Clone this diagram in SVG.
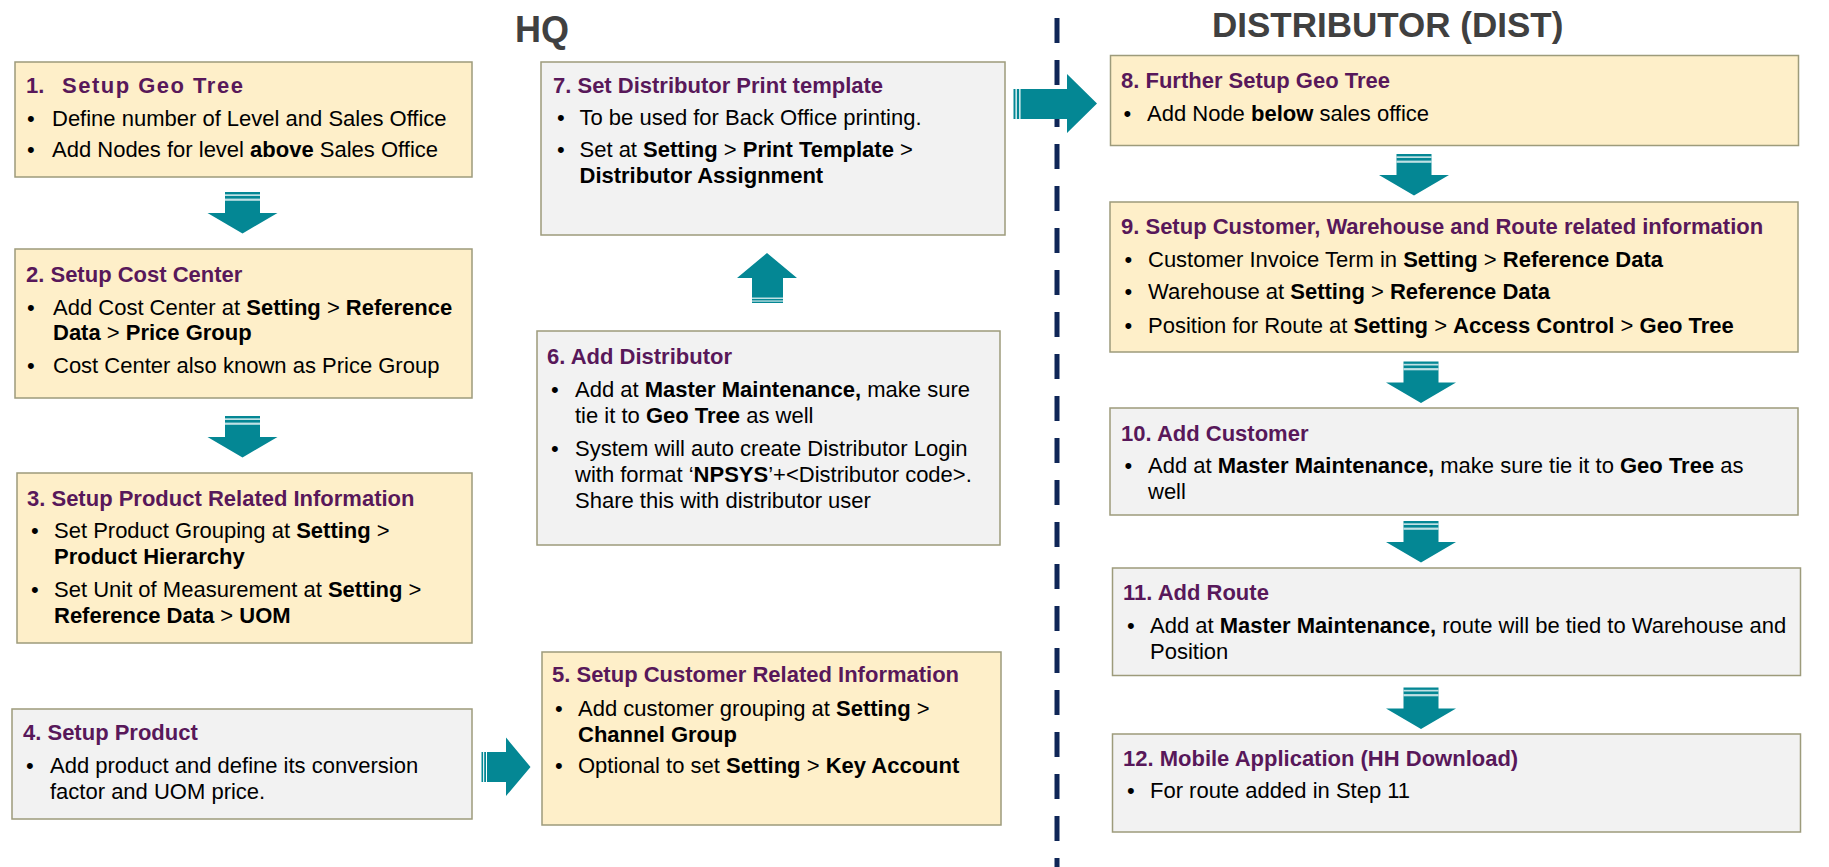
<svg xmlns="http://www.w3.org/2000/svg" width="1829" height="867" viewBox="0 0 1829 867">
<style>
  .box{stroke:#9d9b7b;stroke-width:1.5}
  .y{fill:#feefc9}
  .g{fill:#f2f2f2}
  text{font-family:"Liberation Sans",Arial,sans-serif;font-size:22px;fill:#000}
  .t{font-weight:bold;fill:#58185a}
  .b{font-weight:bold}
  .hd{font-weight:bold;fill:#404040}
  .arr{fill:#048794}
  .st{fill:#ffffff;opacity:.75}
</style>
<defs>
  <!-- striped block arrow pointing down; origin at top centre of the stem -->
  <g id="down">
    <path class="arr" d="M-17.5 0H17.5V21H35L0 41.5L-35 21H-17.5Z"/>
    <rect class="st" x="-17.5" y="2.3" width="35" height="1.7"/>
    <rect class="st" x="-17.5" y="6.6" width="35" height="2.2"/>
  </g>
</defs>

<rect width="1829" height="867" fill="#ffffff"/>

<!-- column headings -->
<text class="hd" x="515" y="42" style="font-size:36px">HQ</text>
<text class="hd" x="1212" y="37" style="font-size:35px">DISTRIBUTOR (DIST)</text>

<!-- HQ / distributor separator -->
<line x1="1057" y1="18" x2="1057" y2="867" stroke="#0f2657" stroke-width="5" stroke-dasharray="25 17"/>

<g id="step1">
  <rect class="box y" x="15" y="62" width="457" height="115"/>
  <text class="t" x="26" y="93">1.</text>
  <text class="t" x="62" y="93" letter-spacing="1.5">Setup Geo Tree</text>
  <text x="27" y="126">•</text><text x="52" y="126">Define number of Level and Sales Office</text>
  <text x="27" y="157">•</text><text x="52" y="157">Add Nodes for level <tspan class="b">above</tspan> Sales Office</text>
</g>

<g id="step2">
  <rect class="box y" x="15" y="249" width="457" height="149"/>
  <text class="t" x="26" y="282">2. Setup Cost Center</text>
  <text x="27" y="315">•</text><text x="53" y="315">Add Cost Center at <tspan class="b">Setting</tspan> &gt; <tspan class="b">Reference</tspan></text>
  <text x="53" y="340"><tspan class="b">Data</tspan> &gt; <tspan class="b">Price Group</tspan></text>
  <text x="27" y="373">•</text><text x="53" y="373">Cost Center also known as Price Group</text>
</g>

<g id="step3">
  <rect class="box y" x="17" y="473" width="455" height="170"/>
  <text class="t" x="27" y="506">3. Setup Product Related Information</text>
  <text x="31" y="538">•</text><text x="54" y="538">Set Product Grouping at <tspan class="b">Setting</tspan> &gt;</text>
  <text x="54" y="564" class="b">Product Hierarchy</text>
  <text x="31" y="597">•</text><text x="54" y="597">Set Unit of Measurement at <tspan class="b">Setting</tspan> &gt;</text>
  <text x="54" y="623"><tspan class="b">Reference Data</tspan> &gt; <tspan class="b">UOM</tspan></text>
</g>

<g id="step4">
  <rect class="box g" x="12" y="709" width="460" height="110"/>
  <text class="t" x="23" y="740">4. Setup Product</text>
  <text x="26" y="773">•</text><text x="50" y="773">Add product and define its conversion</text>
  <text x="50" y="799">factor and UOM price.</text>
</g>

<g id="step5">
  <rect class="box y" x="542" y="652" width="459" height="173"/>
  <text class="t" x="552" y="682">5. Setup Customer Related Information</text>
  <text x="555" y="716">•</text><text x="578" y="716">Add customer grouping at <tspan class="b">Setting</tspan> &gt;</text>
  <text x="578" y="742" class="b">Channel Group</text>
  <text x="555" y="773">•</text><text x="578" y="773">Optional to set <tspan class="b">Setting</tspan> &gt; <tspan class="b">Key Account</tspan></text>
</g>

<g id="step6">
  <rect class="box g" x="537" y="331" width="463" height="214"/>
  <text class="t" x="547" y="364">6. Add Distributor</text>
  <text x="551" y="397">•</text><text x="575" y="397">Add at <tspan class="b">Master Maintenance,</tspan> make sure</text>
  <text x="575" y="423">tie it to <tspan class="b">Geo Tree</tspan> as well</text>
  <text x="551" y="456">•</text><text x="575" y="456">System will auto create Distributor Login</text>
  <text x="575" y="482">with format ‘<tspan class="b">NPSYS</tspan>’+&lt;Distributor code&gt;.</text>
  <text x="575" y="508">Share this with distributor user</text>
</g>

<g id="step7">
  <rect class="box g" x="541" y="62" width="464" height="173"/>
  <text class="t" x="553" y="93">7. Set Distributor Print template</text>
  <text x="557" y="125">•</text><text x="579.5" y="125">To be used for Back Office printing.</text>
  <text x="557" y="157">•</text><text x="579.5" y="157">Set at <tspan class="b">Setting</tspan> &gt; <tspan class="b">Print Template</tspan> &gt;</text>
  <text x="579.5" y="183" class="b">Distributor Assignment</text>
</g>

<g id="step8">
  <rect class="box y" x="1110.5" y="55.5" width="688" height="90"/>
  <text class="t" x="1121" y="88">8. Further Setup Geo Tree</text>
  <text x="1123.5" y="121">•</text><text x="1147" y="121">Add Node <tspan class="b">below</tspan> sales office</text>
</g>

<g id="step9">
  <rect class="box y" x="1110" y="202" width="688" height="150"/>
  <text class="t" x="1121" y="234">9. Setup Customer, Warehouse and Route related information</text>
  <text x="1124.5" y="267">•</text><text x="1148" y="267">Customer Invoice Term in <tspan class="b">Setting</tspan> &gt; <tspan class="b">Reference Data</tspan></text>
  <text x="1124.5" y="299">•</text><text x="1148" y="299">Warehouse at <tspan class="b">Setting</tspan> &gt; <tspan class="b">Reference Data</tspan></text>
  <text x="1124.5" y="333">•</text><text x="1148" y="333">Position for Route at <tspan class="b">Setting</tspan> &gt; <tspan class="b">Access Control</tspan> &gt; <tspan class="b">Geo Tree</tspan></text>
</g>

<g id="step10">
  <rect class="box g" x="1110" y="408" width="688" height="107"/>
  <text class="t" x="1121" y="441">10. Add Customer</text>
  <text x="1124.5" y="473">•</text><text x="1148" y="473">Add at <tspan class="b">Master Maintenance,</tspan> make sure tie it to <tspan class="b">Geo Tree</tspan> as</text>
  <text x="1148" y="499">well</text>
</g>

<g id="step11">
  <rect class="box g" x="1112.5" y="568" width="688" height="107.5"/>
  <text class="t" x="1123" y="600">11. Add Route</text>
  <text x="1127" y="633">•</text><text x="1150" y="633">Add at <tspan class="b">Master Maintenance,</tspan> route will be tied to Warehouse and</text>
  <text x="1150" y="659">Position</text>
</g>

<g id="step12">
  <rect class="box g" x="1112.5" y="734" width="688" height="98"/>
  <text class="t" x="1123" y="766">12. Mobile Application (HH Download)</text>
  <text x="1127" y="798">•</text><text x="1150" y="798">For route added in Step 11</text>
</g>

<g id="connectors">
  <!-- 1 -> 2 -> 3 -->
  <use href="#down" transform="translate(242.5 192)"/>
  <use href="#down" transform="translate(242.5 416)"/>
  <!-- 4 -> 5 -->
  <g>
    <path class="arr" d="M487 752H506V737.5L530.5 767L506 796V782H487Z"/>
    <rect class="arr" x="481.5" y="752" width="1.6" height="30"/>
    <rect class="arr" x="484.2" y="752" width="1.8" height="30"/>
  </g>
  <!-- 6 -> 7 -->
  <g>
    <path class="arr" d="M767 253L797 278H783V303H752V278H737Z"/>
    <rect class="st" x="752" y="297.5" width="31" height="1.5"/>
    <rect class="st" x="752" y="300.4" width="31" height="1.3"/>
  </g>
  <!-- 7 -> 8 -->
  <g>
    <path class="arr" d="M1020.5 89H1067V74L1097 103.5L1067 133V119H1020.5Z"/>
    <rect class="arr" x="1013.5" y="89" width="2" height="30"/>
    <rect class="arr" x="1016.8" y="89" width="2.4" height="30"/>
  </g>
  <!-- 8 -> 9 -> 10 -> 11 -> 12 -->
  <use href="#down" transform="translate(1414 154)"/>
  <use href="#down" transform="translate(1421 361.5)"/>
  <use href="#down" transform="translate(1421 521)"/>
  <use href="#down" transform="translate(1421 687.5)"/>
</g>
</svg>
